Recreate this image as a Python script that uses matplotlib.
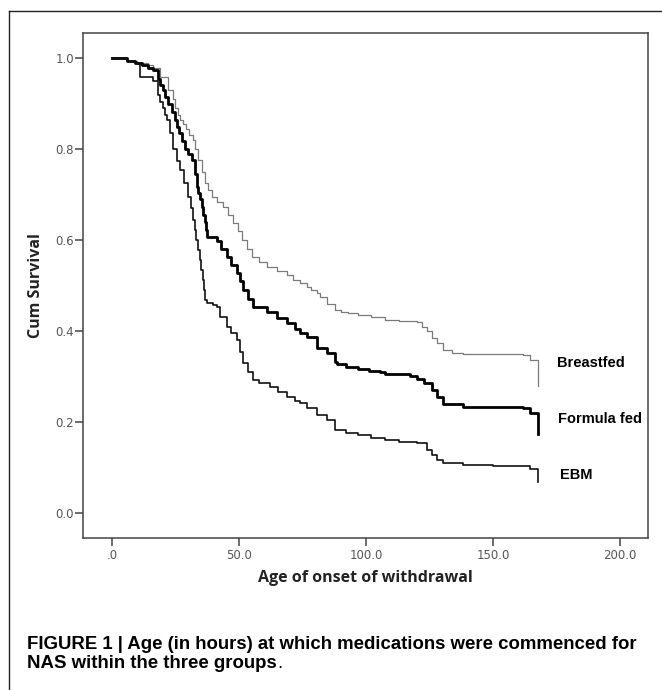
import numpy as np
import matplotlib
matplotlib.use("Agg")
import matplotlib.pyplot as plt
from matplotlib.lines import Line2D
from matplotlib.ticker import FuncFormatter

# Kaplan-Meier curves (hours, cumulative survival)
bf_t = [0, 6, 10, 14, 16, 19, 22, 24, 25, 26, 26.8, 28, 29, 30.5, 31.9, 32.8, 33.9,
        35.3, 36.6, 38, 39.4, 41.5, 43.7, 45.5, 47.6, 49.5, 51.2, 53, 55.1, 58, 61,
        65, 68.9, 71.3, 74, 76.8, 78.5, 80.6, 82, 84.5, 87.8, 90, 93, 96.9, 102,
        107.5, 113, 120, 122, 124, 126, 128, 130.3, 134, 138, 150, 161.8, 164.6,
        167.7, 167.7]
bf_s = [1.0, 0.995, 0.99, 0.985, 0.98, 0.96, 0.93, 0.91, 0.89, 0.875, 0.865, 0.855,
        0.845, 0.832, 0.82, 0.8, 0.777, 0.75, 0.726, 0.71, 0.696, 0.685, 0.673, 0.655,
        0.638, 0.62, 0.60, 0.58, 0.563, 0.552, 0.541, 0.532, 0.524, 0.513, 0.505,
        0.497, 0.49, 0.484, 0.476, 0.46, 0.447, 0.443, 0.44, 0.436, 0.431, 0.425,
        0.422, 0.42, 0.41, 0.40, 0.385, 0.374, 0.359, 0.353, 0.35, 0.349, 0.347,
        0.337, 0.33, 0.28]

ff_t = [0, 6, 9, 12, 14, 16, 18, 19, 20, 21, 22, 23.5, 24.8, 25.6, 26.5, 27.6, 28.7,
        30, 31.4, 32.5, 33.4, 34, 34.6, 35.4, 36, 36.5, 37, 37.4, 41.3, 43, 45.3,
        47, 49.2, 50.5, 51.6, 53.5, 55.5, 61, 65, 68.9, 72, 74, 76.8, 80.7, 84.6,
        87.8, 88.6, 92, 96.9, 101, 105.5, 107.5, 117.3, 120, 123, 126, 128, 130.3,
        138, 150, 161.8, 164.6, 167.7, 167.7]
ff_s = [1.0, 0.995, 0.99, 0.985, 0.98, 0.975, 0.955, 0.942, 0.93, 0.915, 0.90, 0.882,
        0.865, 0.85, 0.835, 0.818, 0.80, 0.79, 0.777, 0.745, 0.718, 0.705, 0.69,
        0.673, 0.655, 0.64, 0.622, 0.607, 0.598, 0.58, 0.563, 0.545, 0.528, 0.51,
        0.49, 0.47, 0.453, 0.442, 0.43, 0.418, 0.405, 0.396, 0.387, 0.363, 0.352,
        0.333, 0.328, 0.322, 0.317, 0.313, 0.31, 0.306, 0.301, 0.295, 0.286, 0.27,
        0.256, 0.240, 0.234, 0.233, 0.232, 0.22, 0.215, 0.174]

ebm_t = [0, 6, 9, 11, 16, 18, 19, 20, 21, 21.6, 23, 24, 25.5, 26.8, 28.5, 30, 31,
         31.9, 32.5, 33.2, 34, 34.6, 35.2, 35.8, 36.2, 36.6, 37.4, 39.8, 41.3, 42.5,
         45.3, 47, 49.2, 50.5, 51.6, 53.5, 55.5, 58, 62.2, 65.5, 68.9, 72, 74, 76.8,
         80.7, 84.6, 87.8, 92, 96.9, 102, 107.5, 113, 120, 124, 126, 128, 130.3, 138,
         150, 161.8, 164.6, 167.7, 167.7]
ebm_s = [1.0, 0.995, 0.99, 0.96, 0.95, 0.92, 0.905, 0.89, 0.875, 0.865, 0.835, 0.80,
         0.775, 0.755, 0.725, 0.696, 0.67, 0.645, 0.622, 0.60, 0.578, 0.557, 0.535,
         0.513, 0.49, 0.469, 0.462, 0.458, 0.453, 0.431, 0.409, 0.395, 0.381, 0.355,
         0.33, 0.31, 0.293, 0.285, 0.277, 0.266, 0.256, 0.247, 0.242, 0.231, 0.216,
         0.205, 0.183, 0.177, 0.172, 0.166, 0.161, 0.157, 0.154, 0.139, 0.128, 0.117,
         0.11, 0.106, 0.104, 0.103, 0.097, 0.095, 0.068]

group_names = ["Breastfed", "Formula fed", "EBM"]
label_x = [175.2, 175.6, 176.4]
label_y = [0.33, 0.207, 0.084]

x_ticks = [0, 50, 100, 150, 200]
y_ticks = [0.0, 0.2, 0.4, 0.6, 0.8, 1.0]

caption_1 = "FIGURE 1 | Age (in hours) at which medications were commenced for"
caption_2 = "NAS within the three groups"

fig = plt.figure(figsize=(6.62, 6.90), dpi=100)
ax = fig.add_axes([83 / 662, 1 - 538 / 690, (648 - 83) / 662, (538 - 33) / 690])

ax.step(bf_t, bf_s, where="post", color="#7a7a7a", lw=0.9)
ax.step(ff_t, ff_s, where="post", color="black", lw=2.0)
ax.step(ebm_t, ebm_s, where="post", color="#111111", lw=1.2)

for name, lx, ly in zip(group_names, label_x, label_y):
    ax.text(lx, ly, name, ha="left", va="center", fontsize=10.5,
            fontweight="bold", family=["Liberation Sans", "DejaVu Sans"])

ax.set_xlim(-11.4, 211)
ax.set_ylim(-0.055, 1.056)
ax.set_xticks(x_ticks)
ax.set_yticks(y_ticks)
ax.xaxis.set_major_formatter(FuncFormatter(lambda v, p: ".0" if v == 0 else f"{v:.1f}"))
ax.yaxis.set_major_formatter(FuncFormatter(lambda v, p: f"{v:.1f}"))
ax.tick_params(direction="out", length=5.5, width=1.1, color="#444444",
               labelcolor="#555555", labelsize=8.5)
ax.tick_params(axis="y", pad=1)
ax.tick_params(axis="x", pad=2.5)
for sp in ax.spines.values():
    sp.set_color("#444444")
    sp.set_linewidth(1.1)

ax.set_xlabel("Age of onset of withdrawal", fontsize=11.5, fontweight="bold",
              family="Open Sans", color="#222222", labelpad=6)
fig.text(36 / 662, 1 - 286 / 690, "Cum Survival", rotation=90, ha="center",
         va="center", fontsize=11.5, fontweight="bold", family="Open Sans",
         color="#222222")

# outer frame
fig.add_artist(Line2D([9 / 662, 9 / 662], [0, 1 - 11 / 690], transform=fig.transFigure,
                      color="#222222", lw=1.0))
fig.add_artist(Line2D([9 / 662, 1], [1 - 11 / 690, 1 - 11 / 690], transform=fig.transFigure,
                      color="#222222", lw=1.0))

# caption, size fitted so line 1 spans about x=27..636 px
cap_font = ["Liberation Sans", "DejaVu Sans"]
t1 = fig.text(27 / 662, 1 - 649 / 690, caption_1, ha="left", va="baseline",
              fontsize=12, fontweight="bold", family=cap_font)
fig.canvas.draw()
w = t1.get_window_extent().width
cap_size = 12 * (636 - 27) / w
t1.set_fontsize(cap_size)
t2 = fig.text(27 / 662, 1 - 668 / 690, caption_2, ha="left", va="baseline",
              fontsize=cap_size, fontweight="bold", family=cap_font)
ax.annotate(".", xy=(1, 0), xycoords=t2, xytext=(0.5, 0), textcoords="offset points",
            ha="left", va="bottom", fontsize=cap_size, family=cap_font)

fig.savefig("out.png", dpi=100)
